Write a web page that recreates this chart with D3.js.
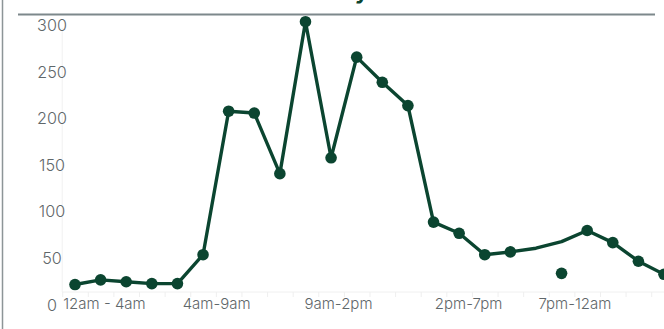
<!DOCTYPE html>
<html>
<head>
<meta charset="utf-8">
<script src="https://cdn.jsdelivr.net/npm/d3@7"></script>
<style>
  html, body { margin: 0; padding: 0; background: #ffffff; overflow: hidden; }
  svg { display: block; }
  text { font-family: Inter, "Noto Sans", sans-serif; }
</style>
</head>
<body>
<svg id="chart" width="664" height="329"></svg>
<script>
// Hour of day, 0 = midnight
const hours = [0, 1, 2, 3, 4, 5, 6, 7, 8, 9, 10, 11, 12, 13, 14, 15, 16, 17, 18, 19, 20, 21, 22, 23];

// Visitors per hour (line)
const visitors = [8, 13, 11, 9, 9, 40, 194, 192, 127, 290, 144, 252, 225, 200, 75, 63, 40, 43, 47, 54, 66, 53, 33, 19];

// Marked readings per hour (null = no marker)
const markedVisitors = [8, 13, 11, 9, 9, 40, 194, 192, 127, 290, 144, 252, 225, 200, 75, 63, 40, 43, null, 20, 66, 53, 33, 19];

// Y axis ticks
const yTicks = [0, 50, 100, 150, 200, 250, 300];

// X axis period labels and where they sit on the hour scale
const periodLabels = ["12am - 4am", "4am-9am", "9am-2pm", "2pm-7pm", "7pm-12am"];
const periodPositions = [1.13, 5.51, 10.27, 15.35, 19.5];

const title = "Visitors by hour";

const svg = d3.select("#chart");
const green = "#0b4530";
const grey = "#5f676a";
const labelFont = "Inter, 'Noto Sans', sans-serif";

const x = d3.scaleLinear().domain([0, 23]).range([75, 664]);
const y = d3.scaleLinear().domain([0, 300]).range([292, 12.4]);

// frame: left edge rule and header rule
svg.append("line")
  .attr("x1", 2.5).attr("x2", 2.5).attr("y1", 0).attr("y2", 329)
  .attr("stroke", "#8d9597").attr("stroke-width", 1.5);

svg.append("text")
  .attr("x", 253).attr("y", -1)
  .attr("font-size", 22).attr("font-weight", 700)
  .attr("fill", green)
  .text(title);

svg.append("line")
  .attr("x1", 18).attr("x2", 655).attr("y1", 14.5).attr("y2", 14.5)
  .attr("stroke", "#7d888b").attr("stroke-width", 2);

// faint plot frame: y axis line, baseline and hour ticks
svg.append("line")
  .attr("x1", x(-0.5)).attr("x2", x(-0.5)).attr("y1", 28).attr("y2", y(0))
  .attr("stroke", "#f1f1f1").attr("stroke-width", 1);

const xAxis = d3.axisBottom(x)
  .tickValues(hours.map(h => h - 0.5))
  .tickSize(5)
  .tickFormat("");
const xg = svg.append("g")
  .attr("transform", `translate(0,${y(0)})`)
  .call(xAxis);
xg.select(".domain").attr("stroke", "#f0f0f0").attr("d", `M${x(-0.5)},0H664`);
xg.selectAll(".tick line").attr("stroke", "#efefef");

// y axis labels, centred in the label column, set just below each tick
const yAxis = d3.axisLeft(y).tickValues(yTicks).tickSize(0).tickFormat(d3.format("d"));
const yg = svg.append("g").attr("transform", "translate(52,0)").call(yAxis);
yg.select(".domain").remove();
yg.selectAll(".tick text")
  .attr("x", 0).attr("dy", "1.12em")
  .attr("text-anchor", "middle")
  .attr("font-size", 16.2)
  .attr("font-weight", 300)
  .attr("font-family", labelFont)
  .attr("fill", grey);

// x period labels
const periodAxis = d3.axisBottom(x)
  .tickValues(periodPositions)
  .tickSize(0)
  .tickFormat((d, i) => periodLabels[i]);
const pg = svg.append("g").attr("transform", `translate(0,${y(0)})`).call(periodAxis);
pg.select(".domain").remove();
pg.selectAll(".tick text")
  .attr("y", 0).attr("dy", "1.15em")
  .attr("font-size", 15)
  .attr("font-weight", 300)
  .attr("font-family", labelFont)
  .attr("fill", grey);

// line
const line = d3.line()
  .x((d, i) => x(hours[i]))
  .y(d => y(d));

svg.append("path")
  .datum(visitors)
  .attr("fill", "none")
  .attr("stroke", green)
  .attr("stroke-width", 3.4)
  .attr("stroke-linejoin", "round")
  .attr("stroke-linecap", "round")
  .attr("d", line);

// markers
svg.append("g")
  .selectAll("circle")
  .data(hours.filter((h, i) => markedVisitors[i] != null))
  .join("circle")
  .attr("cx", h => x(h))
  .attr("cy", h => y(markedVisitors[hours.indexOf(h)]))
  .attr("r", 5.8)
  .attr("fill", green);
</script>
</body>
</html>
